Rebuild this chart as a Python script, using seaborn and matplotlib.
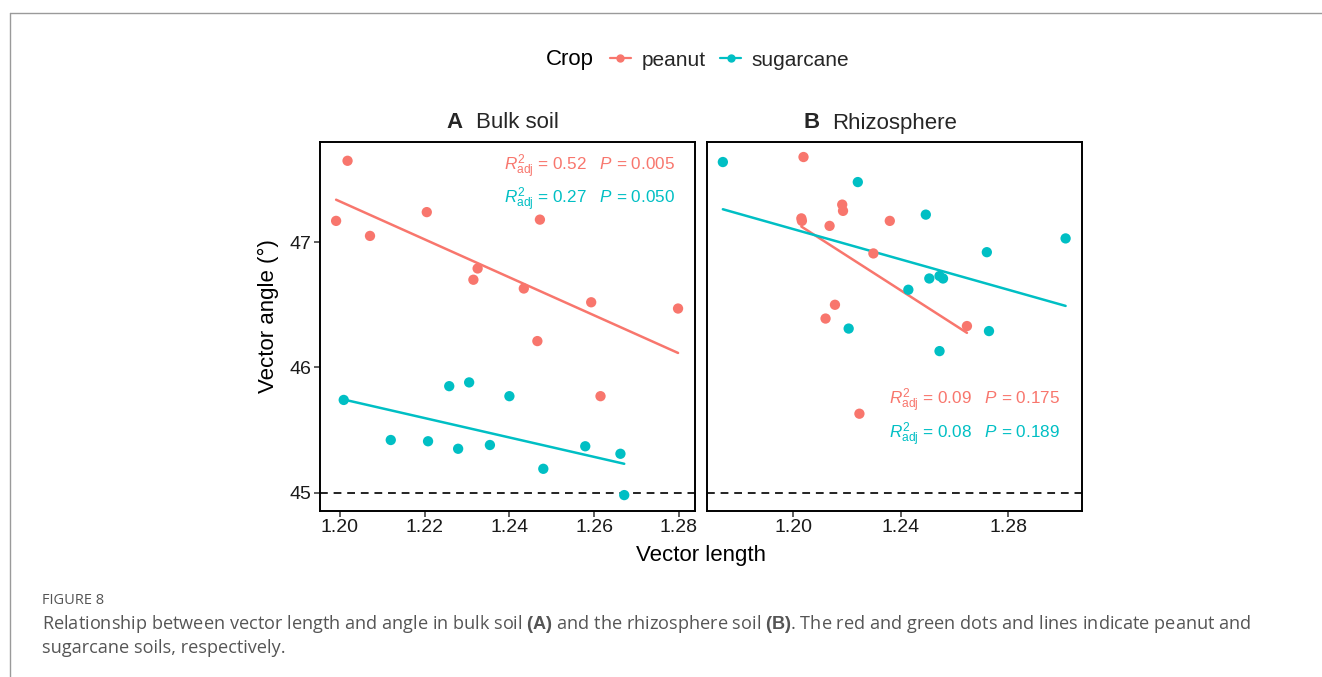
import numpy as np
import pandas as pd
import matplotlib
matplotlib.use("Agg")
import matplotlib.pyplot as plt
from matplotlib.lines import Line2D
import seaborn as sns

# ---- data ----
crops = ["peanut", "sugarcane"]
colors = ["#F8766D", "#00BFC4"]

bulk_peanut_len = [1.2018, 1.1991, 1.2071, 1.2205, 1.2325, 1.2315, 1.2434, 1.2472, 1.2466, 1.2593, 1.2615, 1.2798]
bulk_peanut_ang = [47.65, 47.17, 47.05, 47.24, 46.79, 46.70, 46.63, 47.18, 46.21, 46.52, 45.77, 46.47]
bulk_sugar_len = [1.2009, 1.2120, 1.2208, 1.2258, 1.2279, 1.2305, 1.2354, 1.2400, 1.2480, 1.2579, 1.2662, 1.2671]
bulk_sugar_ang = [45.74, 45.42, 45.41, 45.85, 45.35, 45.88, 45.38, 45.77, 45.19, 45.37, 45.31, 44.98]

rhizo_peanut_len = [1.2038, 1.2030, 1.2032, 1.2182, 1.2185, 1.2135, 1.2359, 1.2298, 1.2155, 1.2120, 1.2646, 1.2246]
rhizo_peanut_ang = [47.68, 47.19, 47.17, 47.30, 47.25, 47.13, 47.17, 46.91, 46.50, 46.39, 46.33, 45.63]
rhizo_sugar_len = [1.1738, 1.2240, 1.2493, 1.2720, 1.3013, 1.2506, 1.2544, 1.2557, 1.2428, 1.2206, 1.2728, 1.2544]
rhizo_sugar_ang = [47.64, 47.48, 47.22, 46.92, 47.03, 46.71, 46.73, 46.71, 46.62, 46.31, 46.29, 46.13]

bulk_stats = [("0.52", "0.005"), ("0.27", "0.050")]
rhizo_stats = [("0.09", "0.175"), ("0.08", "0.189")]

x_ticks_a = [1.20, 1.22, 1.24, 1.26, 1.28]
x_ticks_b = [1.20, 1.24, 1.28]
y_ticks = [45, 46, 47]

def make_df(pl, pa, sl, sa):
    return pd.DataFrame({
        "length": list(pl) + list(sl),
        "angle": list(pa) + list(sa),
        "Crop": ["peanut"] * len(pl) + ["sugarcane"] * len(sl),
    })

df_a = make_df(bulk_peanut_len, bulk_peanut_ang, bulk_sugar_len, bulk_sugar_ang)
df_b = make_df(rhizo_peanut_len, rhizo_peanut_ang, rhizo_sugar_len, rhizo_sugar_ang)

# ---- style ----
sns.set_theme(style="white")
plt.rcParams["font.family"] = ["Liberation Sans", "DejaVu Sans"]
plt.rcParams["mathtext.fontset"] = "custom"
plt.rcParams["mathtext.rm"] = "Liberation Sans"
plt.rcParams["mathtext.it"] = "Liberation Sans:italic"
plt.rcParams["mathtext.bf"] = "Liberation Sans:bold"

W, H = 1322, 677
fig = plt.figure(figsize=(W / 100, H / 100), dpi=100)
fig.patch.set_facecolor("white")

def ax_rect(l, t, r, b):
    return [l / W, 1 - b / H, (r - l) / W, (b - t) / H]

ax_a = fig.add_axes(ax_rect(320, 142, 695, 511))
ax_b = fig.add_axes(ax_rect(707, 142, 1082, 511))

palette = dict(zip(crops, colors))

for ax, df, xlim, xt in [
    (ax_a, df_a, (1.1953, 1.2838), x_ticks_a),
    (ax_b, df_b, (1.1679, 1.3074), x_ticks_b),
]:
    ax.axhline(45, color="#222222", ls=(0, (4, 3)), lw=1.4, zorder=1)
    sns.scatterplot(data=df, x="length", y="angle", hue="Crop", palette=palette,
                    s=55, edgecolor="none", ax=ax, legend=False, zorder=3)
    for crop in crops:
        sub = df[df["Crop"] == crop]
        sns.regplot(data=sub, x="length", y="angle", scatter=False, ci=None,
                    color=palette[crop], line_kws={"lw": 1.8}, ax=ax, truncate=True)
    ax.set_xlim(*xlim)
    ax.set_ylim(44.853, 47.80)
    ax.set_xticks(xt)
    ax.set_xticklabels([f"{v:.2f}" for v in xt])
    ax.set_xlabel("")
    ax.set_ylabel("")
    for sp in ax.spines.values():
        sp.set_color("black")
        sp.set_linewidth(1.4)
    ax.tick_params(axis="x", which="both", length=4, width=1.1, color="#333333",
                   labelsize=14, labelcolor="#1a1a1a", pad=2, direction="out", bottom=True)

ax_a.set_yticks(y_ticks)
ax_a.set_yticklabels([str(v) for v in y_ticks])
ax_a.tick_params(axis="y", length=4, width=1.1, color="#333333", labelsize=14,
                 labelcolor="#1a1a1a", pad=2, direction="out", left=True)
ax_b.set_yticks(y_ticks)
ax_b.set_yticklabels([])
ax_b.tick_params(axis="y", length=0, left=False)

# annotations (one string per line so both parts share a baseline)
def stat_line(x_right, y, r2, p, color):
    s = r"$R^2_{\mathrm{adj}}$ = " + r2 + r"   $P$ = " + p
    fig.text(x_right / W, 1 - y / H, s, ha="right", va="baseline", fontsize=12.3, color=color)

stat_line(675, 171, bulk_stats[0][0], bulk_stats[0][1], colors[0])
stat_line(675, 204, bulk_stats[1][0], bulk_stats[1][1], colors[1])
stat_line(1060, 405, rhizo_stats[0][0], rhizo_stats[0][1], colors[0])
stat_line(1060, 439, rhizo_stats[1][0], rhizo_stats[1][1], colors[1])

# panel titles
fig.text(446 / W, 1 - 123 / H, "A", ha="left", va="center", fontsize=16, fontweight="bold")
fig.text(476 / W, 1 - 123 / H, "Bulk soil", ha="left", va="center", fontsize=16)
fig.text(803 / W, 1 - 123 / H, "B", ha="left", va="center", fontsize=16, fontweight="bold")
fig.text(832 / W, 1 - 123 / H, "Rhizosphere", ha="left", va="center", fontsize=16)

# axis labels
fig.text(701 / W, 1 - 556 / H, "Vector length", ha="center", va="center", fontsize=16, color="black")
fig.text(268 / W, 1 - 316 / H, "Vector angle (°)", ha="center", va="center", rotation=90,
         fontsize=16, color="black")

# legend
fig.text(570 / W, 1 - 60 / H, "Crop", ha="center", va="center", fontsize=16, color="black")
handles = [Line2D([0], [0], color=c, lw=1.6, marker="o", markersize=5) for c in colors]
fig.legend(handles, crops, loc="center left", bbox_to_anchor=(610 / W, 1 - 60 / H), ncol=2,
           frameon=False, fontsize=15, handlelength=1.0, handletextpad=0.5, columnspacing=0.72,
           borderaxespad=0, borderpad=0)

# page frame and caption
fig.add_artist(Line2D([10 / W, 1.0], [1 - 13 / H, 1 - 13 / H], transform=fig.transFigure,
                      color="#9a9a9a", lw=1))
fig.add_artist(Line2D([10 / W, 10 / W], [1 - 13 / H, 0], transform=fig.transFigure,
                      color="#9a9a9a", lw=1))
cap_font = ["Open Sans", "DejaVu Sans"]
fig.text(42 / W, 1 - 601 / H, "FIGURE 8", ha="left", va="center", fontsize=10.5,
         color="#555555", family=cap_font)
cap1 = ("Relationship between vector length and angle in bulk soil $\\bf{(A)}$ and the rhizosphere "
        "soil $\\bf{(B)}$. The red and green dots and lines indicate peanut and")
fig.text(42 / W, 1 - 624 / H, cap1, ha="left", va="center", fontsize=13.1, color="#555555",
         family=cap_font)
fig.text(42 / W, 1 - 648 / H, "sugarcane soils, respectively.", ha="left", va="center",
         fontsize=13.1, color="#555555", family=cap_font)

fig.savefig("out.png", dpi=100, facecolor="white")
